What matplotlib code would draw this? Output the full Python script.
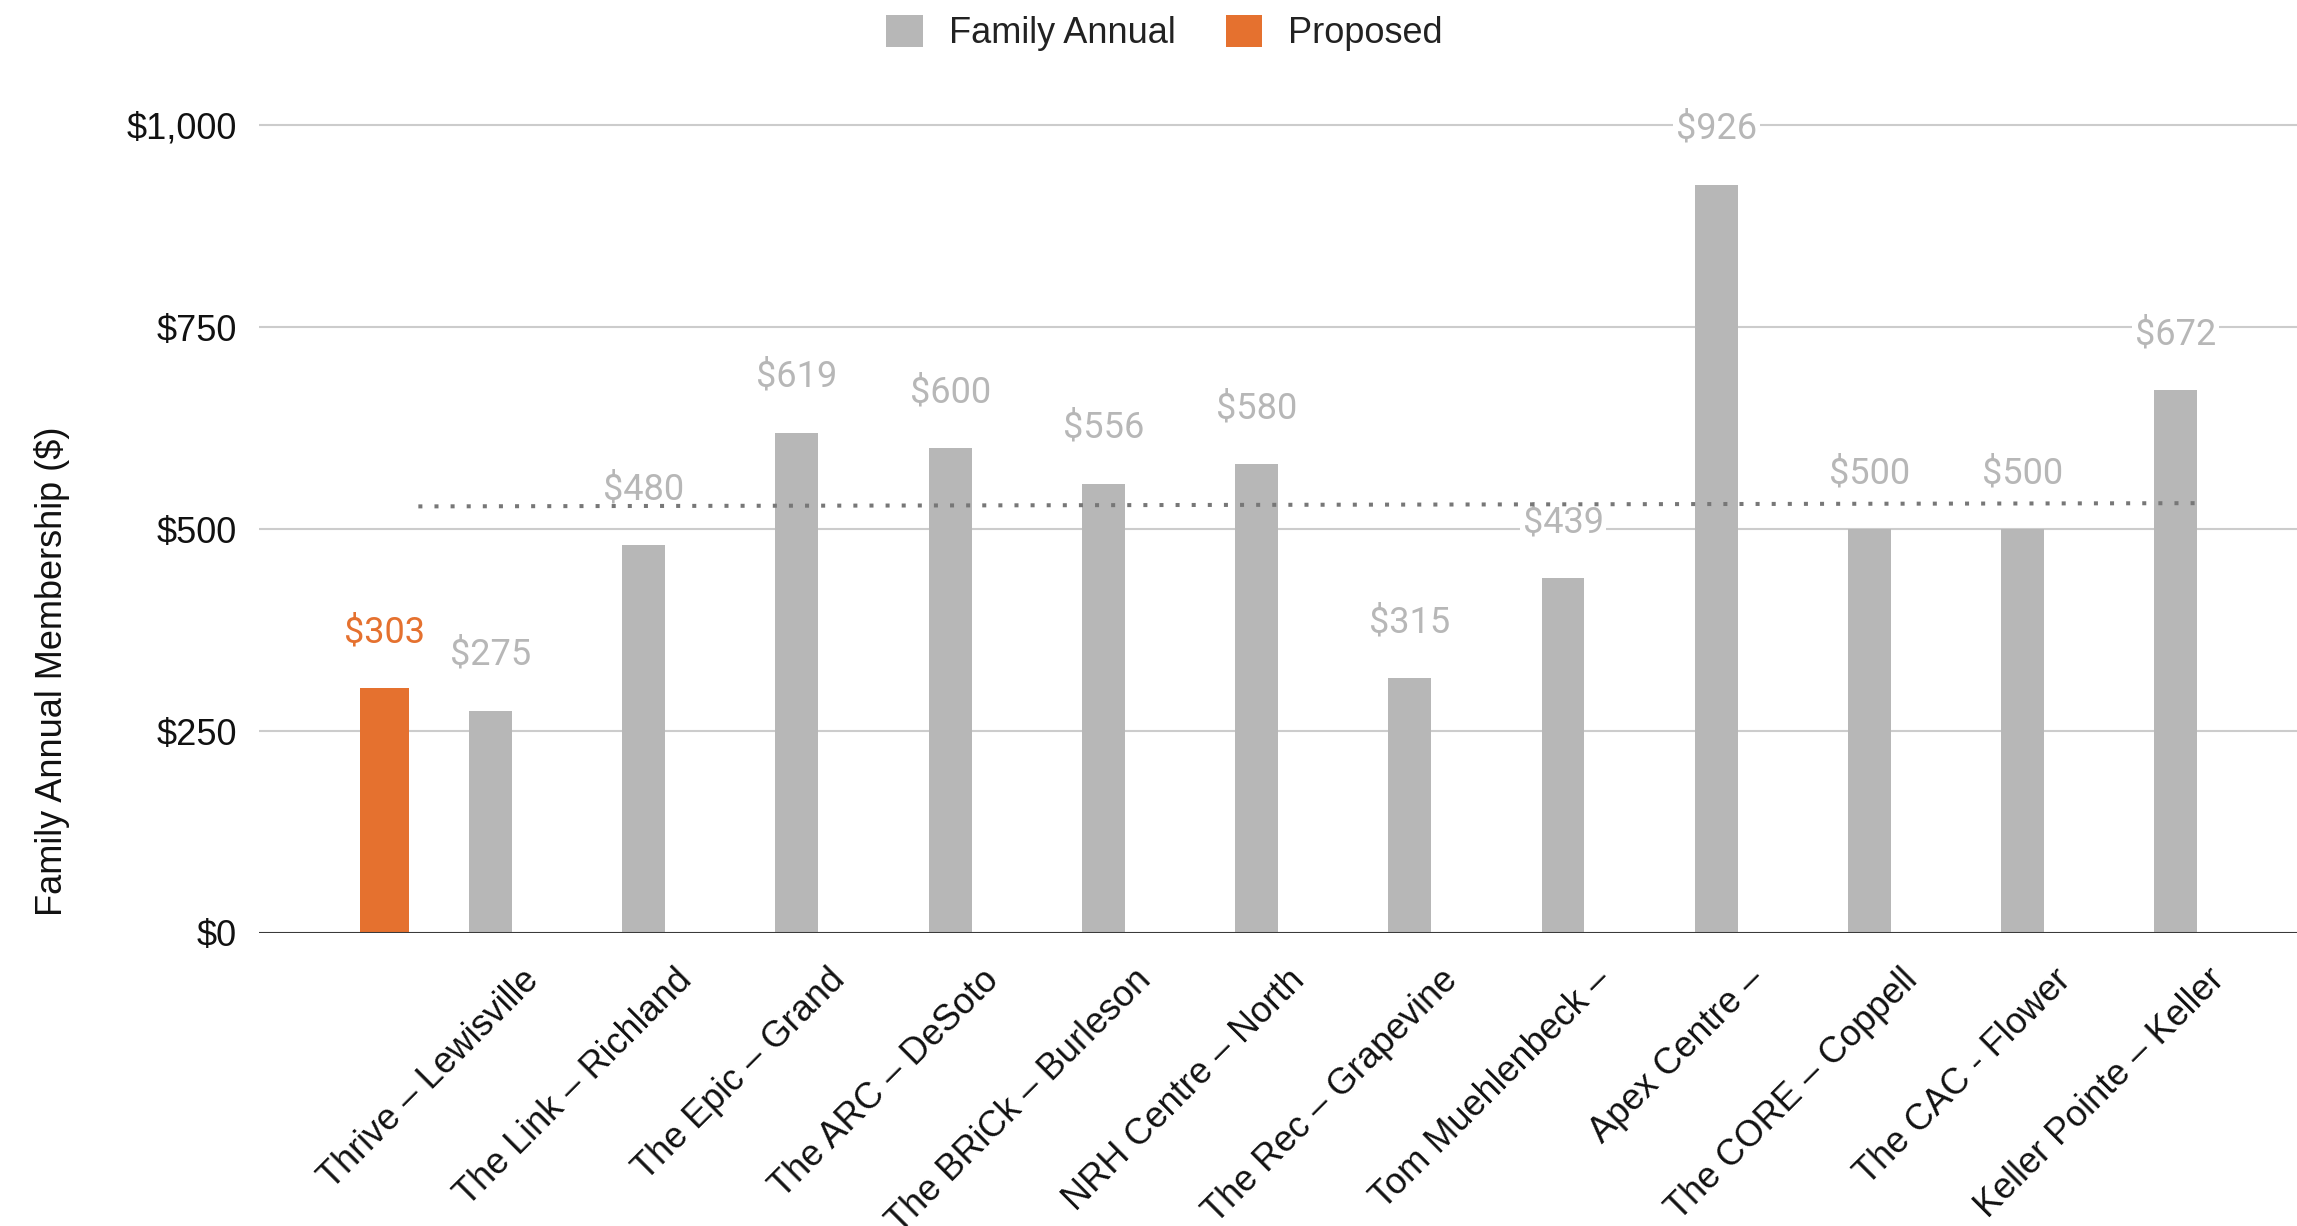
import matplotlib

matplotlib.use("Agg")
import matplotlib.pyplot as plt
import numpy as np
from matplotlib.patches import Patch

centers = [
    "Thrive – Lewisville",
    "The Link – Richland",
    "The Epic – Grand",
    "The ARC – DeSoto",
    "The BRiCk – Burleson",
    "NRH Centre – North",
    "The Rec – Grapevine",
    "Tom Muehlenbeck –",
    "Apex Centre –",
    "The CORE – Coppell",
    "The CAC - Flower",
    "Keller Pointe – Keller",
]
family_annual = [275, 480, 619, 600, 556, 580, 315, 439, 926, 500, 500, 672]
proposed = [303, None, None, None, None, None, None, None, None, None, None, None]
trend_start, trend_end = 528, 532
y_ticks = [0, 250, 500, 750, 1000]
y_tick_labels = ["$0", "$250", "$500", "$750", "$1,000"]

GRAY = "#b7b7b7"
ORANGE = "#e5712f"
W, H = 2297, 1226

plt.rcParams["font.family"] = ["Liberation Sans", "DejaVu Sans"]

fig = plt.figure(figsize=(W / 100, H / 100), dpi=100)
ax = fig.add_axes([259 / W, 1 - 933 / H, (W - 259) / W, (933 - 122.6) / H])

x = np.arange(len(centers))
ax.bar(x, family_annual, width=0.28, color=GRAY, zorder=3)
for xi, v in zip(x, family_annual):
    ax.annotate(f"${v}", (xi, v), xytext=(0, 46), textcoords="offset pixels",
                ha="center", va="baseline", fontsize=26, family="Roboto", color=GRAY,
                bbox=dict(facecolor="white", edgecolor="none", pad=2), zorder=4)

for xi, v in zip(x, proposed):
    if v is None:
        continue
    ax.bar(xi - 0.69, v, width=0.32, color=ORANGE, zorder=3)
    ax.annotate(f"${v}", (xi - 0.69, v), xytext=(0, 46), textcoords="offset pixels",
                ha="center", va="baseline", fontsize=26, family="Roboto", color=ORANGE,
                bbox=dict(facecolor="white", edgecolor="none", pad=2), zorder=4)

# trendline
ax.plot([x[0] - 0.47, x[-1] + 0.14], [trend_start, trend_end], color="#777777",
        linewidth=2.9, linestyle=(0, (1, 3)), dash_capstyle="butt", zorder=5)

ax.set_xlim(-1.51, 11.79)
ax.set_ylim(0, 1003)
ax.set_yticks(y_ticks, y_tick_labels, fontsize=26, color="#111111")
ax.set_xticks(x + 0.28, centers, fontsize=26, color="#111111", rotation=45,
              ha="right", va="center", rotation_mode="anchor")
ax.tick_params(axis="x", length=0, pad=30)
ax.tick_params(axis="y", length=0, pad=16)
ax.yaxis.grid(True, color="#cccccc", linewidth=1.5, zorder=0)
ax.set_axisbelow(True)
for s in ax.spines.values():
    s.set_visible(False)
ax.axhline(0, color="#3a3a3a", linewidth=2.2, zorder=4)

fig.text(52 / W, 1 - 671 / H, "Family Annual Membership ($)", rotation=90,
         ha="center", va="center", fontsize=26, color="#111111")

handles = [Patch(facecolor=GRAY, label="Family Annual"), Patch(facecolor=ORANGE, label="Proposed")]
fig.legend(handles=handles, loc="center", bbox_to_anchor=(1164.5 / W, 1 - 33 / H), ncol=2,
           frameon=False, fontsize=26, handlelength=1.02, handleheight=1.02,
           handletextpad=0.72, columnspacing=1.38, borderpad=0, labelcolor="#222222")

fig.savefig("out.png", dpi=100)
plt.close(fig)
